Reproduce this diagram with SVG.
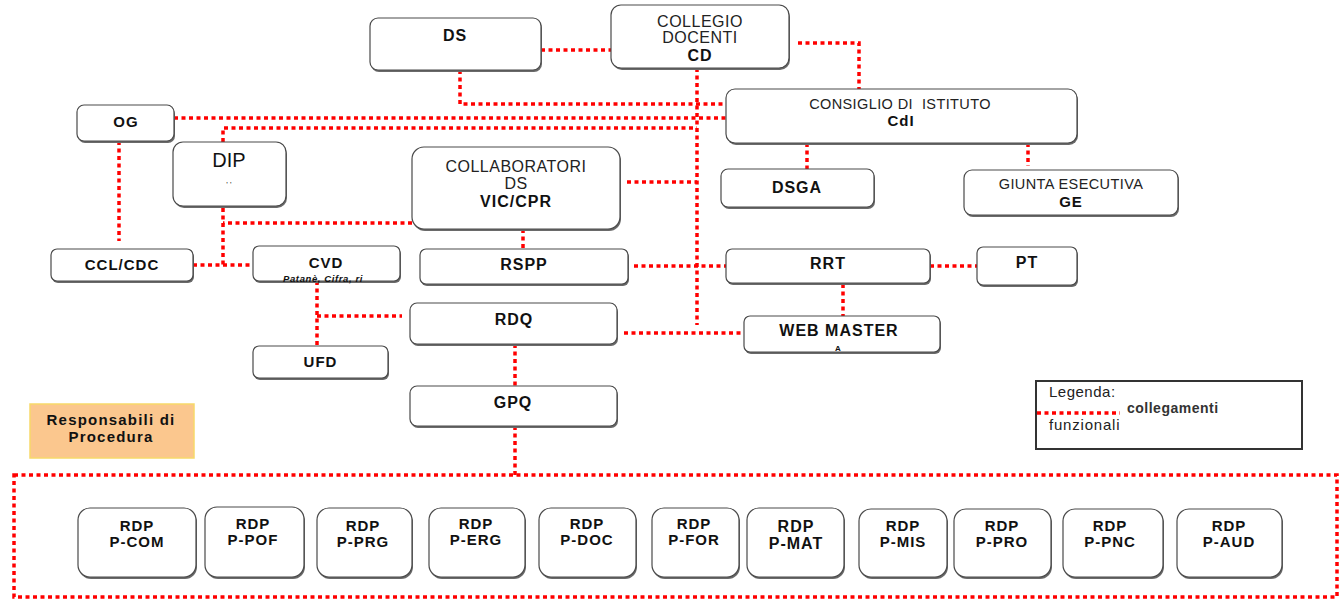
<svg xmlns="http://www.w3.org/2000/svg" width="1344" height="600" viewBox="0 0 1344 600">
<style>
.bx{fill:#fff;stroke:#4a4a4a;stroke-width:1.2}
.sh{fill:#6a6a6a}
.c{fill:none;stroke:#ff0000;stroke-width:3.5;stroke-dasharray:4 3.5}
text{font-family:"Liberation Sans",Arial,sans-serif;fill:#111;text-anchor:middle}
.b{font-weight:bold;font-size:16px;letter-spacing:1px}
.bs{font-weight:bold;font-size:15px;letter-spacing:1px}
.r{font-size:16px;letter-spacing:0.5px;fill:#222}
.rs{font-size:14.5px;letter-spacing:0.4px;fill:#222}
</style>
<rect width="1344" height="600" fill="#fff"/>
<g id="connectors">
<path class="c" d="M541 50H611"/>
<path class="c" d="M798 43H859V89"/>
<path class="c" d="M460 70V104H726"/>
<path class="c" d="M174 118H726"/>
<path class="c" d="M223 142V128H697"/>
<path class="c" d="M697 68V325"/>
<path class="c" d="M627 182H697"/>
<path class="c" d="M412 223H223"/>
<path class="c" d="M223 208V265"/>
<path class="c" d="M193 265H253"/>
<path class="c" d="M119 141V241"/>
<path class="c" d="M523 229V249"/>
<path class="c" d="M634 266H726"/>
<path class="c" d="M930 266H977"/>
<path class="c" d="M807 143V169"/>
<path class="c" d="M1028 143V166"/>
<path class="c" d="M843 284V316"/>
<path class="c" d="M624 333H744"/>
<path class="c" d="M317 281V345"/>
<path class="c" d="M317 316H402"/>
<path class="c" d="M515 344V386"/>
<path class="c" d="M515 426V475"/>
<rect class="c" x="14" y="475" width="1323" height="122"/>
</g>
<g id="DS"><rect class="sh" x="371" y="20" width="171" height="52" rx="8"/><rect class="bx" x="370" y="18" width="171" height="52" rx="8"/><text class="b" x="455" y="40.5">DS</text></g>
<g id="CD"><rect class="sh" x="612" y="7" width="178" height="63" rx="10"/><rect class="bx" x="611" y="5" width="178" height="63" rx="10"/><text class="r" x="700" y="27">COLLEGIO</text><text class="r" x="700" y="43">DOCENTI</text><text class="b" x="700" y="61">CD</text></g>
<g id="CdI"><rect class="sh" x="727" y="91" width="351" height="54" rx="9"/><rect class="bx" x="726" y="89" width="351" height="54" rx="9"/><text class="rs" x="900" y="109" xml:space="preserve">CONSIGLIO DI  ISTITUTO</text><text class="bs" x="901" y="125.5">CdI</text></g>
<g id="OG"><rect class="sh" x="78" y="107" width="97" height="36" rx="7"/><rect class="bx" x="77" y="105" width="97" height="36" rx="7"/><text class="bs" x="126" y="126.5">OG</text></g>
<g id="DIP"><rect class="sh" x="174" y="144" width="113" height="64" rx="10"/><rect class="bx" x="173" y="142" width="113" height="64" rx="10"/><text x="229" y="167" style="font-size:20px">DIP</text><text x="229" y="187" style="font-size:8px">' '</text></g>
<g id="COLLAB"><rect class="sh" x="413" y="149" width="208" height="82" rx="12"/><rect class="bx" x="412" y="147" width="208" height="82" rx="12"/><text class="r" x="516" y="172">COLLABORATORI</text><text class="r" x="516" y="189">DS</text><text class="b" x="516" y="207">VIC/CPR</text></g>
<g id="DSGA"><rect class="sh" x="722" y="171" width="153" height="38" rx="7"/><rect class="bx" x="721" y="169" width="153" height="38" rx="7"/><text class="b" x="797" y="193">DSGA</text></g>
<g id="GE"><rect class="sh" x="965" y="172" width="214" height="45" rx="8"/><rect class="bx" x="964" y="170" width="214" height="45" rx="8"/><text class="rs" x="1071" y="189">GIUNTA ESECUTIVA</text><text class="bs" x="1071" y="207">GE</text></g>
<g id="CCL"><rect class="sh" x="52" y="251" width="142" height="32" rx="6"/><rect class="bx" x="51" y="249" width="142" height="32" rx="6"/><text class="bs" x="122" y="270">CCL/CDC</text></g>
<g id="CVD"><rect class="sh" x="254" y="248" width="147" height="35" rx="6"/><rect class="bx" x="253" y="246" width="147" height="35" rx="6"/><text class="bs" x="326" y="267.5">CVD</text><text x="323" y="282" style="font-size:9.5px;font-weight:bold;font-style:italic;letter-spacing:0.6px">Patanè, Cifra, ri</text></g>
<g id="UFD"><rect class="sh" x="254" y="348" width="135" height="32" rx="6"/><rect class="bx" x="253" y="346" width="135" height="32" rx="6"/><text class="bs" x="320.5" y="367">UFD</text></g>
<g id="RSPP"><rect class="sh" x="421" y="251" width="208" height="35" rx="6"/><rect class="bx" x="420" y="249" width="208" height="35" rx="6"/><text class="b" x="524" y="269.5">RSPP</text></g>
<g id="RRT"><rect class="sh" x="727" y="251" width="204" height="34" rx="6"/><rect class="bx" x="726" y="249" width="204" height="34" rx="6"/><text class="b" x="828" y="268.5">RRT</text></g>
<g id="PT"><rect class="sh" x="978" y="249" width="100" height="38" rx="6"/><rect class="bx" x="977" y="247" width="100" height="38" rx="6"/><text class="b" x="1027" y="267.5">PT</text></g>
<g id="RDQ"><rect class="sh" x="411" y="305" width="207" height="41" rx="7"/><rect class="bx" x="410" y="303" width="207" height="41" rx="7"/><text class="b" x="514" y="324.5">RDQ</text></g>
<g id="WEBMASTER"><rect class="sh" x="745" y="318" width="196" height="36" rx="6"/><rect class="bx" x="744" y="316" width="196" height="36" rx="6"/><text class="b" x="839" y="336">WEB MASTER</text><text x="838" y="351" style="font-size:8px;font-weight:bold">A</text></g>
<g id="GPQ"><rect class="sh" x="411" y="388" width="207" height="40" rx="7"/><rect class="bx" x="410" y="386" width="207" height="40" rx="7"/><text class="b" x="513" y="407.5">GPQ</text></g>
<g id="RESP"><rect x="30" y="404" width="164" height="54" fill="#fbc78e" stroke="#f7d96a" stroke-width="1.5"/><text class="bs" x="111" y="425" style="letter-spacing:1.2px">Responsabili di</text><text class="bs" x="111" y="442" style="letter-spacing:1.2px">Procedura</text></g>
<g id="LEGEND"><rect x="1036" y="381" width="266" height="68" fill="#fff" stroke="#333" stroke-width="2"/><text x="1049" y="397" style="font-size:15px;letter-spacing:0.5px;text-anchor:start;fill:#222">Legenda:</text><path class="c" d="M1037 413H1120"/><text x="1127" y="413" style="font-size:14px;font-weight:bold;letter-spacing:0.5px;text-anchor:start;fill:#333">collegamenti</text><text x="1049" y="430" style="font-size:15px;letter-spacing:0.8px;text-anchor:start;fill:#222">funzionali</text></g>
<g id="P-COM"><rect class="sh" x="79" y="510" width="118" height="69" rx="12"/><rect class="bx" x="78" y="508" width="118" height="69" rx="12"/><text class="bs" x="137" y="530.5">RDP</text><text class="bs" x="137" y="546.5">P-COM</text></g>
<g id="P-POF"><rect class="sh" x="206" y="509" width="99" height="70" rx="12"/><rect class="bx" x="205" y="507" width="99" height="70" rx="12"/><text class="bs" x="253" y="529">RDP</text><text class="bs" x="253" y="545">P-POF</text></g>
<g id="P-PRG"><rect class="sh" x="318" y="510" width="95" height="69" rx="12"/><rect class="bx" x="317" y="508" width="95" height="69" rx="12"/><text class="bs" x="363" y="530.5">RDP</text><text class="bs" x="363" y="546.5">P-PRG</text></g>
<g id="P-ERG"><rect class="sh" x="430" y="510" width="96" height="69" rx="12"/><rect class="bx" x="429" y="508" width="96" height="69" rx="12"/><text class="bs" x="476" y="529">RDP</text><text class="bs" x="476" y="545">P-ERG</text></g>
<g id="P-DOC"><rect class="sh" x="540" y="510" width="97" height="69" rx="12"/><rect class="bx" x="539" y="508" width="97" height="69" rx="12"/><text class="bs" x="587" y="529">RDP</text><text class="bs" x="587" y="545">P-DOC</text></g>
<g id="P-FOR"><rect class="sh" x="653" y="510" width="87" height="69" rx="12"/><rect class="bx" x="652" y="508" width="87" height="69" rx="12"/><text class="bs" x="694" y="529">RDP</text><text class="bs" x="694" y="545">P-FOR</text></g>
<g id="P-MAT"><rect class="sh" x="748" y="510" width="97" height="69" rx="12"/><rect class="bx" x="747" y="508" width="97" height="69" rx="12"/><text class="b" x="796" y="532">RDP</text><text class="b" x="796" y="549">P-MAT</text></g>
<g id="P-MIS"><rect class="sh" x="860" y="511" width="88" height="68" rx="12"/><rect class="bx" x="859" y="509" width="88" height="68" rx="12"/><text class="bs" x="903" y="530.5">RDP</text><text class="bs" x="903" y="546.5">P-MIS</text></g>
<g id="P-PRO"><rect class="sh" x="955" y="511" width="97" height="68" rx="12"/><rect class="bx" x="954" y="509" width="97" height="68" rx="12"/><text class="bs" x="1002" y="530.5">RDP</text><text class="bs" x="1002" y="546.5">P-PRO</text></g>
<g id="P-PNC"><rect class="sh" x="1064" y="511" width="100" height="68" rx="12"/><rect class="bx" x="1063" y="509" width="100" height="68" rx="12"/><text class="bs" x="1110" y="530.5">RDP</text><text class="bs" x="1110" y="546.5">P-PNC</text></g>
<g id="P-AUD"><rect class="sh" x="1178" y="511" width="105" height="68" rx="12"/><rect class="bx" x="1177" y="509" width="105" height="68" rx="12"/><text class="bs" x="1229" y="530.5">RDP</text><text class="bs" x="1229" y="546.5">P-AUD</text></g>
</svg>
